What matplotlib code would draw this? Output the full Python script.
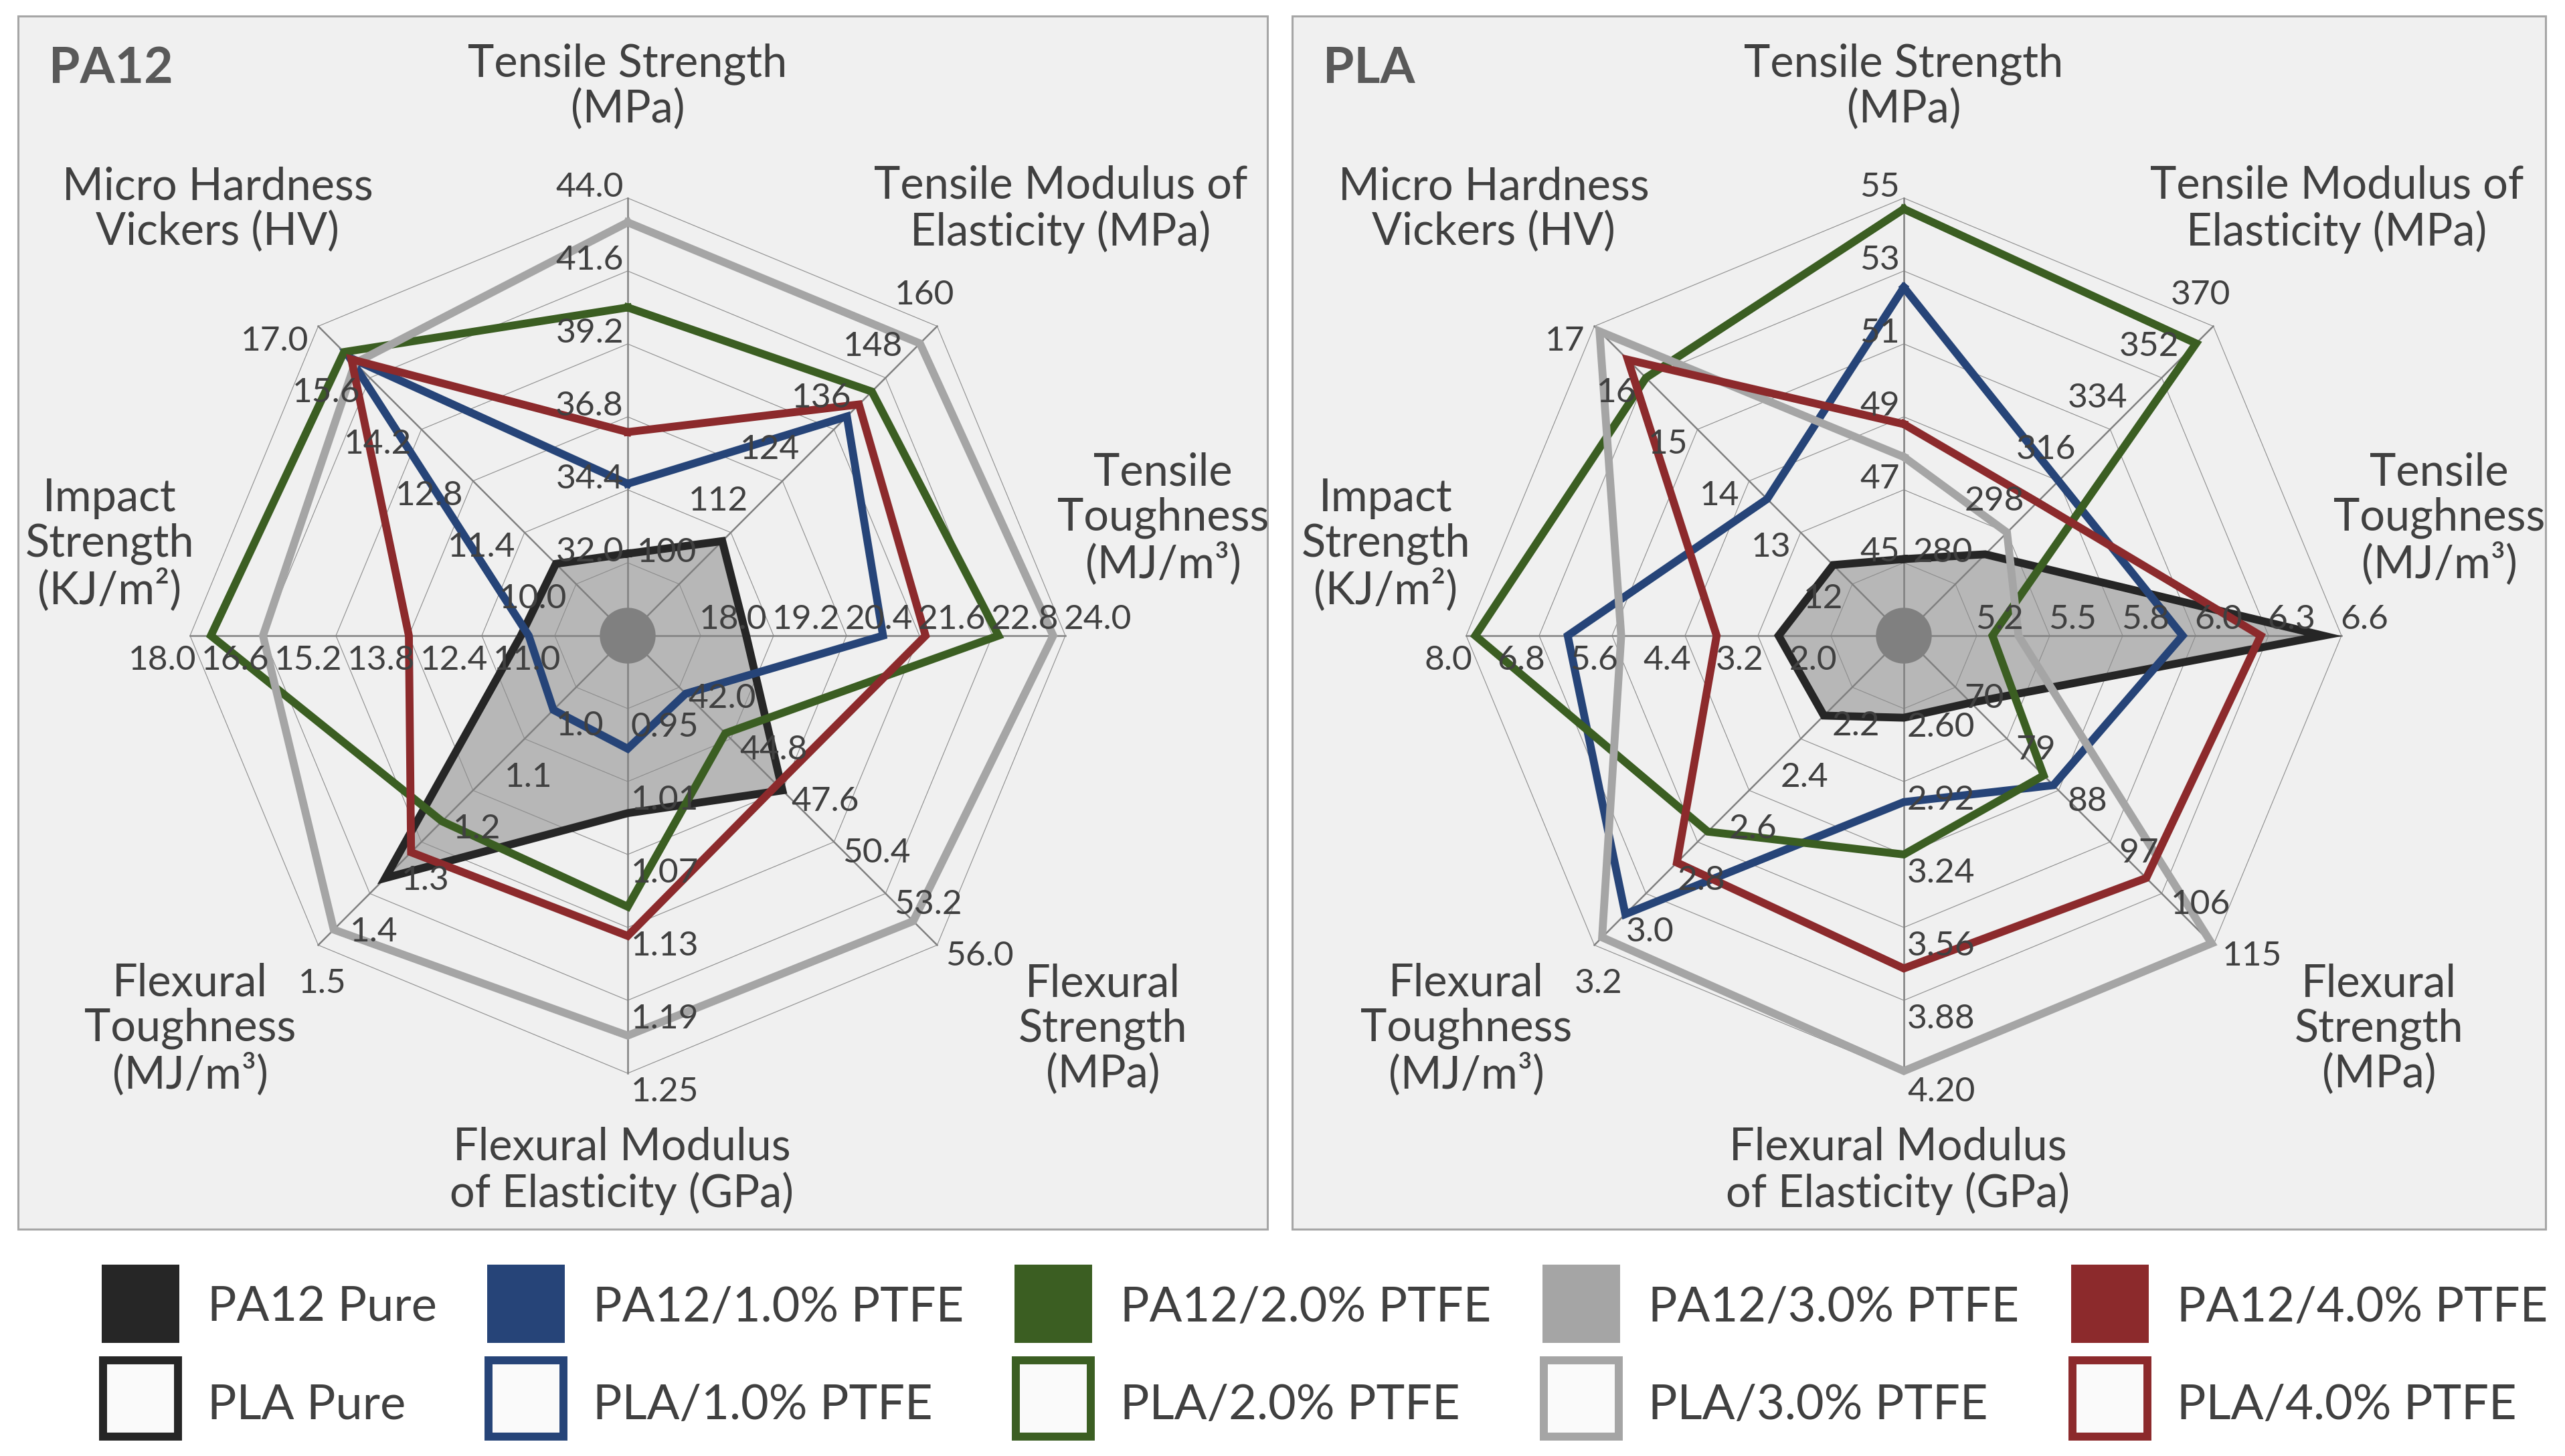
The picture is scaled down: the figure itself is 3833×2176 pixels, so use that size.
import numpy as np
import matplotlib.pyplot as plt
from matplotlib.patches import Rectangle, Circle, Polygon

plt.rcParams['font.family'] = ['Lato', 'DejaVu Sans']

W, H = 3833, 2176

# spokes, clockwise from the top
axis_titles = [
    "Tensile Strength\n(MPa)",
    "Tensile Modulus of\nElasticity (MPa)",
    "Tensile\nToughness\n(MJ/m³)",
    "Flexural\nStrength\n(MPa)",
    "Flexural Modulus\nof Elasticity (GPa)",
    "Flexural\nToughness\n(MJ/m³)",
    "Impact\nStrength\n(KJ/m²)",
    "Micro Hardness\nVickers (HV)",
]

pa12_ticks = [
    ["32.0", "34.4", "36.8", "39.2", "41.6", "44.0"],
    ["100", "112", "124", "136", "148", "160"],
    ["18.0", "19.2", "20.4", "21.6", "22.8", "24.0"],
    ["42.0", "44.8", "47.6", "50.4", "53.2", "56.0"],
    ["0.95", "1.01", "1.07", "1.13", "1.19", "1.25"],
    ["1.0", "1.1", "1.2", "1.3", "1.4", "1.5"],
    ["11.0", "12.4", "13.8", "15.2", "16.6", "18.0"],
    ["10.0", "11.4", "12.8", "14.2", "15.6", "17.0"],
]
pla_ticks = [
    ["45", "47", "49", "51", "53", "55"],
    ["280", "298", "316", "334", "352", "370"],
    ["5.2", "5.5", "5.8", "6.0", "6.3", "6.6"],
    ["70", "79", "88", "97", "106", "115"],
    ["2.60", "2.92", "3.24", "3.56", "3.88", "4.20"],
    ["2.2", "2.4", "2.6", "2.8", "3.0", "3.2"],
    ["2.0", "3.2", "4.4", "5.6", "6.8", "8.0"],
    ["12", "13", "14", "15", "16", "17"],
]

# values per spoke (same order as axis_titles)
pa12_pure = [32.3, 110.0, 18.75, 47.6, 1.036, 1.37, 11.65, 10.55]
pa12_1 = [34.6, 139.0, 21.0, 42.35, 0.983, 1.044, 11.5, 16.15]
pa12_2 = [40.4, 144.8, 22.9, 44.5, 1.113, 1.26, 17.6, 16.3]
pa12_3 = [43.2, 156.0, 23.8, 54.7, 1.219, 1.47, 16.6, 16.0]
pa12_4 = [36.3, 141.8, 21.7, 47.3, 1.137, 1.32, 13.8, 16.1]

pla_pure = [45.1, 290.4, 6.53, 72.7, 2.64, 2.31, 2.86, 12.37]
pla_1 = [52.55, 316.0, 5.99, 87.1, 3.01, 3.08, 6.33, 13.65]
pla_2 = [54.7, 364.0, 5.26, 85.4, 3.24, 2.76, 7.85, 16.0]
pla_3 = [47.9, 298.0, 5.36, 114.7, 4.19, 3.17, 5.45, 16.9]
pla_4 = [48.8, 308.6, 6.29, 103.3, 3.74, 2.88, 3.88, 16.35]

pa12_labels = ["PA12 Pure", "PA12/1.0% PTFE", "PA12/2.0% PTFE", "PA12/3.0% PTFE", "PA12/4.0% PTFE"]
pla_labels = ["PLA Pure", "PLA/1.0% PTFE", "PLA/2.0% PTFE", "PLA/3.0% PTFE", "PLA/4.0% PTFE"]
colors = ['#262626', '#264478', '#3b5e22', '#a5a5a5', '#8c2a2c']

R = 654
TXT = '#404040'
ang = np.deg2rad(90 - 45 * np.arange(8))

# tick label placement per spoke: ha, va, dx, dy (pixels, y down)
tick_place = [
    ('right', 'baseline', -6, -2),
    ('right', 'baseline', 26, -33),
    ('left', 'baseline', -2, -10),
    ('left', 'center_baseline', 13, 12),
    ('left', 'top', 5, 5),
    ('center', 'top', 6, 35),
    ('right', 'top', 9, 14),
    ('right', 'center_baseline', -14, 18),
]
title_off = [(0, -820), (647, -637), (800, -175), (710, 588),
             (-9, 800), (-654, 588), (-774, -136), (-613, -637)]


def to_xy(vals, ticks, cx, cy):
    rs = []
    for v, t in zip(vals, ticks):
        first, last = float(t[0]), float(t[-1])
        lo = first - (last - first) / 5
        rs.append((v - lo) / (last - lo) * R)
    rs = np.array(rs)
    return cx + rs * np.cos(ang), cy - rs * np.sin(ang)


fig = plt.figure(figsize=(W / 100, H / 100), dpi=100)
ax = fig.add_axes([0, 0, 1, 1])
ax.set_xlim(0, W)
ax.set_ylim(H, 0)
ax.axis('off')

panels = [
    ("PA12", 27, 1867, 938, pa12_ticks, [pa12_pure, pa12_1, pa12_2, pa12_3, pa12_4]),
    ("PLA", 1931, 1873, 2845, pla_ticks, [pla_pure, pla_1, pla_2, pla_3, pla_4]),
]
cy = 950

for name, x0, pw, cx, ticks, series in panels:
    ax.add_patch(Rectangle((x0, 24), pw, 1813, facecolor='#f0f0f0',
                           edgecolor='#a6a6a6', lw=2.2, zorder=0))
    ax.text(x0 + 46, 102, name, fontsize=54, fontweight='bold', color='#595959',
            ha='left', va='center')

    # grid
    for k in range(1, 7):
        r = R * k / 6
        ax.add_patch(Polygon(np.column_stack([cx + r * np.cos(ang), cy - r * np.sin(ang)]),
                             closed=True, fill=False, edgecolor='#8c8c8c', lw=0.8, zorder=2))
    for a in ang:
        ax.plot([cx, cx + R * np.cos(a)], [cy, cy - R * np.sin(a)],
                color='#808080', lw=1.8, zorder=2)

    # pure polymer filled
    px, py = to_xy(series[0], ticks, cx, cy)
    ax.fill(px, py, color='#7f7f7f', alpha=0.5, lw=0, zorder=1)

    for s, col in zip(series, colors):
        x, y = to_xy(s, ticks, cx, cy)
        ax.plot(np.append(x, x[0]), np.append(y, y[0]), color=col, lw=8.5,
                solid_joinstyle='miter', zorder=3)

    ax.add_patch(Circle((cx, cy), 41, color='#808080', zorder=4))

    # tick labels
    for i, labs in enumerate(ticks):
        ha, va, dx, dy = tick_place[i]
        for k, lab in enumerate(labs):
            r = R * (k + 1) / 6
            ax.text(cx + r * np.cos(ang[i]) + dx, cy - r * np.sin(ang[i]) + dy, lab,
                    fontsize=37, color=TXT, ha=ha, va=va, zorder=5)

    for t, (ox, oy) in zip(axis_titles, title_off):
        ax.text(cx + ox, cy + oy, t, fontsize=48, color=TXT, ha='center', va='center',
                multialignment='center', linespacing=1.1, zorder=5)

# legend
leg_x = [152, 728, 1516, 2305, 3095]
for lx, col, l1, l2 in zip(leg_x, colors, pa12_labels, pla_labels):
    ax.add_patch(Rectangle((lx, 1890), 116, 117, facecolor=col, edgecolor='none'))
    ax.text(lx + 158, 1948, l1, fontsize=52, color=TXT, ha='left', va='center_baseline')
    ax.add_patch(Rectangle((lx + 2, 2033), 112, 114, facecolor='#fafafa',
                           edgecolor=col, lw=8.6, joinstyle='miter'))
    ax.text(lx + 158, 2094, l2, fontsize=52, color=TXT, ha='left', va='center_baseline')

fig.savefig('out.png', dpi=100, facecolor='white')
